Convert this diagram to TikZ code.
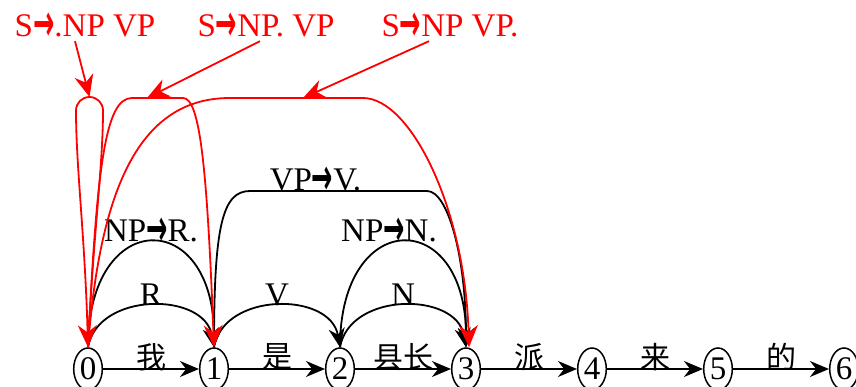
\documentclass[tikz,border=0pt]{standalone}
\usepackage{graphicx}
\usepackage{fontspec}
\setmainfont{Liberation Serif}
\newfontfamily\cjk{Noto Sans CJK SC}
\newfontfamily\arrowfont{DejaVu Sans}
\usetikzlibrary{arrows.meta,shapes.geometric}
\newcommand{\ra}{\raisebox{-4pt}{\scalebox{0.85}[1.7]{\arrowfont\bfseries\fontsize{30}{30}\selectfont →}}}
\tikzset{
	state/.style={draw, ellipse, line width=1.5pt, minimum width=28.6pt, minimum height=42pt, inner sep=0pt, font=\fontsize{33}{33}\selectfont},
	blk/.style={line width=1.8pt, -{Stealth[length=19pt,width=16pt]}},
	redln/.style={red, line width=1.8pt, -{Stealth[length=22pt,width=19pt]}},
	lbl/.style={inner sep=0pt, anchor=base, font=\fontsize{33}{33}\selectfont},
	word/.style={inner sep=0pt, font=\cjk\fontsize{30}{30}\selectfont},
}
\begin{document}
\begin{tikzpicture}[x=1pt, y=1pt]
		\clip (0,0) rectangle (856,387);
		% states and words
		\foreach \i in {0,...,6} {
			\node[state] (n\i) at (88+126*\i,18) {\i};
		}
		\foreach \i/\w [count=\j] in {0/我, 1/是, 2/县长, 3/派, 4/来, 5/的} {
			\draw[blk] (n\i) -- node[word, yshift=12pt] (w\j) {\w} (n\j);
		}
		% black edges
		\foreach \a/\b/\t in {0/1/R, 1/2/V, 2/3/N} {
			\draw[blk] (n\a.north) to[out=80, in=100, looseness=1.15] node[lbl] (s\a) {\t} (n\b.north);
		}
		\draw[blk] (n0.north) to[out=90, in=90, looseness=2.86] node[lbl] (np1) {NP\ra R.} (n1.north);
		\draw[blk] (n2.north) to[out=90, in=90, looseness=2.86] node[lbl, xshift=-14pt] (np2) {NP\ra N.} (n3.north);
		\draw[blk] (n1.north) .. controls (214,160) and (222,196) .. (250,196)
			-- node[lbl, pos=.37] (vp) {VP\ra V.} (427,196)
			.. controls (448,196) and (466,130) .. (n3.north);
		% red edges
		\draw[redln] (n0.north) .. controls (93,150) and (103,220) .. (103,276.5)
			arc[start angle=0, end angle=180, radius=13.5]
			.. controls (76,220) and (85,150) .. (n0.north);
		\draw[redln] (n0.north) .. controls (97,220) and (105,289) .. (132,289) -- (183,289)
			.. controls (200,289) and (207,220) .. (n1.north);
		\draw[redln] (n0.north) .. controls (100,200) and (140,289) .. (230,289) -- (363,289)
			.. controls (410,289) and (465,180) .. ([xshift=3pt]n3.north);
		% dotted rules
		\node[lbl, red] (l1) at (85,350) {S\ra.NP VP};
		\node[lbl, red] (l2) at (266,350) {S\ra NP. VP};
		\node[lbl, red] (l3) at (450,350) {S\ra NP VP.};
		\coordinate (t1) at (89.5,290);
		\coordinate (t2) at (147,289);
		\coordinate (t3) at (303,289);
		\draw[redln] ([xshift=-10pt]l1.south) -- (t1);
		\draw[redln] ([xshift=-6pt]l2.south) -- (t2);
		\draw[redln] ([xshift=-21pt]l3.south) -- (t3);
\end{tikzpicture}
\end{document}
